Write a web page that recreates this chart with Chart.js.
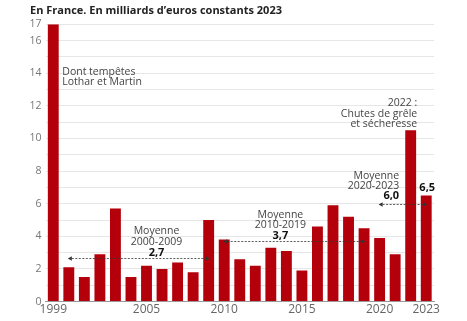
<!DOCTYPE html>
<html>
<head>
<meta charset="utf-8">
<script src="https://cdn.jsdelivr.net/npm/chart.js@4"></script>
<style>
  html, body { margin: 0; padding: 0; background: #fff; }
  #wrap { width: 467px; height: 321px; }
</style>
</head>
<body>
<div id="wrap"><canvas id="myChart" width="467" height="321"></canvas></div>
<script>
// years and losses (milliards d'euros constants 2023)
const years = ["1999","2000","2001","2002","2003","2004","2005","2006","2007","2008","2009",
  "2010","2011","2012","2013","2014","2015","2016","2017","2018","2019","2020","2021","2022","2023"];
const losses = [17.0, 2.1, 1.5, 2.9, 5.7, 1.5, 2.2, 2.0, 2.4, 1.8, 5.0,
  3.8, 2.6, 2.2, 3.3, 3.1, 1.9, 4.6, 5.9, 5.2, 4.5, 3.9, 2.9, 10.5, 6.5];
const shownYears = ["1999", "2005", "2010", "2015", "2020", "2023"];
const yTicks = [0, 2, 4, 6, 8, 10, 12, 14, 16, 17];

// period averages
const avgFrom = ["2000", "2010", "2020"];
const avgTo = ["2009", "2019", "2023"];
const avgValue = [2.7, 3.7, 6.0];
const avgText = ["2,7", "3,7", "6,0"];
const avgPeriod = ["2000-2009", "2010-2019", "2020-2023"];

const BAR = "#b3000b";
const INK = "#333";
const FONT = "'Open Sans', 'DejaVu Sans', sans-serif";

function arrowHead(ctx, x, y, dir) {
  ctx.beginPath();
  ctx.moveTo(x, y);
  ctx.lineTo(x - dir * 4, y - 2.2);
  ctx.lineTo(x - dir * 4, y + 2.2);
  ctx.closePath();
  ctx.fill();
}

const notes = {
  id: "notes",
  afterDatasetsDraw(chart) {
    const ctx = chart.ctx;
    const xs = chart.scales.x;
    const ys = chart.scales.y;
    const xAt = (year) => xs.getPixelForValue(years.indexOf(year));
    ctx.save();

    // dashed average lines with arrows
    ctx.strokeStyle = INK;
    ctx.fillStyle = INK;
    ctx.lineWidth = 0.8;
    for (let i = 0; i < avgValue.length; i++) {
      const x1 = xAt(avgFrom[i]);
      const x2 = xAt(avgTo[i]);
      const y = Math.round(ys.getPixelForValue(avgValue[i])) + 0.5;
      ctx.setLineDash([2, 1.5]);
      ctx.beginPath();
      ctx.moveTo(x1 + 3, y);
      ctx.lineTo(x2 - 3, y);
      ctx.stroke();
      ctx.setLineDash([]);
      arrowHead(ctx, x1 - 1, y, -1);
      arrowHead(ctx, x2 + 1, y, 1);
    }

    const text = (s, x, y, align, bold) => {
      ctx.font = (bold ? "bold 11px " : "10.5px ") + FONT;
      ctx.textAlign = align;
      ctx.textBaseline = "middle";
      ctx.fillStyle = bold ? "#111" : "#444";
      ctx.fillText(s, x, y);
    };

    // labels for the averages
    const xa = xAt("2005") + 10;
    const y0 = ys.getPixelForValue(avgValue[0]);
    text("Moyenne", xa, y0 - 27, "center");
    text(avgPeriod[0], xa, y0 - 16, "center");
    text(avgText[0], xa, y0 - 5, "center", true);

    const xb = xAt("2014") - 6;
    const y1 = ys.getPixelForValue(avgValue[1]);
    text("Moyenne", xb, y1 - 26, "center");
    text(avgPeriod[1], xb, y1 - 16, "center");
    text(avgText[1], xb, y1 - 5, "center", true);

    const xc = xAt("2021") + 4;
    const y2 = ys.getPixelForValue(avgValue[2]);
    text("Moyenne", xc, y2 - 28, "right");
    text(avgPeriod[2], xc, y2 - 18, "right");
    text(avgText[2], xc, y2 - 7.5, "right", true);

    // value of the last bar
    const last = losses.length - 1;
    text(String(losses[last]).replace(".", ","), xs.getPixelForValue(last) + 1,
      ys.getPixelForValue(losses[last]) - 8, "center", true);

    // storm and hail notes
    const xn = xAt("1999") + 9;
    text("Dont tempêtes", xn, ys.getPixelForValue(14.05), "left");
    text("Lothar et Martin", xn, ys.getPixelForValue(13.45), "left");

    const xh = xAt("2022") + 6.5;
    const top22 = ys.getPixelForValue(losses[years.indexOf("2022")]);
    text("2022 :", xh, top22 - 27, "right");
    text("Chutes de grêle", xh, top22 - 16.5, "right");
    text("et sécheresse", xh, top22 - 6.5, "right");

    ctx.restore();
  }
};

new Chart(document.getElementById("myChart").getContext("2d"), {
  type: "bar",
  data: {
    labels: years,
    datasets: [{
      data: losses,
      backgroundColor: BAR,
      borderWidth: 0,
      categoryPercentage: 1,
      barPercentage: 0.7,
    }],
  },
  options: {
    responsive: false,
    animation: false,
    layout: { padding: { left: 30, right: 33, bottom: 3, top: 0 } },
    plugins: {
      legend: { display: false },
      tooltip: { enabled: false },
      title: {
        display: true,
        text: "En France. En milliards d’euros constants 2023",
        align: "start",
        color: "#222",
        font: { family: FONT, size: 11, weight: "bold" },
        padding: { top: 4, bottom: 7 },
      },
    },
    scales: {
      x: {
        grid: { display: false, drawTicks: false },
        border: { color: "#999", width: 1 },
        ticks: {
          autoSkip: false,
          maxRotation: 0,
          padding: 1,
          color: "#666",
          font: { family: FONT, size: 12 },
          callback: function (v) {
            const y = years[v];
            return shownYears.includes(y) ? y : "";
          },
        },
      },
      y: {
        min: 0,
        max: 17,
        border: { display: false },
        grid: { color: "#e6e6e6", drawTicks: false },
        afterFit: (scale) => { scale.width = 15.5; },
        ticks: {
          stepSize: 1,
          autoSkip: false,
          padding: 4,
          color: "#777",
          font: { family: FONT, size: 10.5 },
          callback: (v) => (yTicks.includes(v) ? v : ""),
        },
      },
    },
  },
  plugins: [notes],
});
</script>
</body>
</html>
